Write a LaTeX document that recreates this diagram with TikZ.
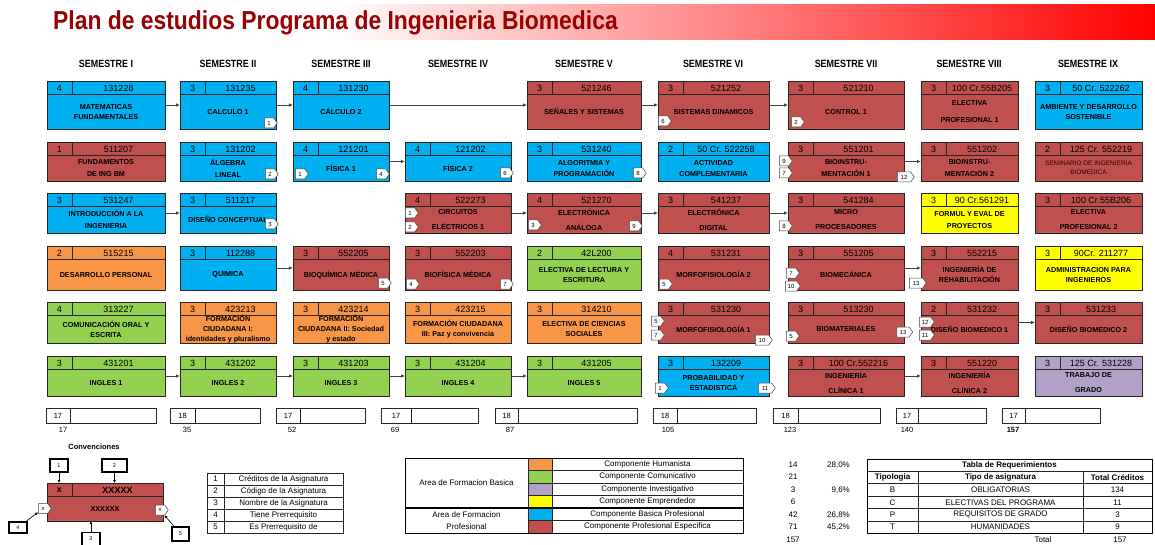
\documentclass[tikz,border=0pt]{standalone}
\usepackage{fontspec}
\setmainfont{Liberation Sans}
\newfontfamily\titfont[FakeStretch=0.88]{Liberation Sans}
\newfontfamily\nar[FakeStretch=0.85]{Liberation Sans}
\usetikzlibrary{shapes.symbols,arrows.meta}
\definecolor{cblue}{HTML}{00B0F0}
\definecolor{cred}{HTML}{C0504D}
\definecolor{corange}{HTML}{F79646}
\definecolor{cgreen}{HTML}{92D050}
\definecolor{cyellow}{HTML}{FFFF00}
\definecolor{cpurple}{HTML}{B1A0C7}
\definecolor{titred}{HTML}{990000}
\tikzset{
 cbox/.style={draw=black!85,line width=0.7pt,inner sep=0pt,outer sep=0pt},
 cline/.style={draw=black!85,line width=0.7pt},
 crt/.style={font=\fontsize{9}{9}\selectfont,inner sep=0pt},
 ttl/.style={font=\fontsize{7.2}{10}\selectfont\bfseries,align=center,inner sep=0pt},
 ttlx/.style={},
 tagst/.style={shape=signal,signal to=east,signal pointer angle=110,draw=black!75,fill=white,
   font=\fontsize{6}{6}\selectfont,inner sep=0.5pt,minimum height=10pt,line width=0.5pt},
 arr/.style={-{Latex[length=4pt,width=3.5pt]},line width=0.8pt,draw=black!75},
 sarr/.style={-{Latex[length=3pt,width=3pt]},line width=0.6pt,draw=black},
 sem/.style={font=\nar\bfseries\fontsize{10.5}{11}\selectfont},
 tot/.style={draw=black!85,line width=0.7pt,inner sep=0pt,anchor=north west},
 small/.style={font=\fontsize{7.5}{8}\selectfont,inner sep=0pt},
 leg/.style={font=\fontsize{8}{9}\selectfont,inner sep=0pt,align=center},
 callout/.style={draw=black,line width=1.3pt,fill=white,inner sep=0pt,font=\fontsize{5.5}{6}\selectfont},
}
\newcommand\crs[9]{%
 \node[cbox,fill=#6,minimum width={#3-#2},minimum height={#5-#4},anchor=north west] (#1) at (#2,#4) {};
 \draw[cline] ({#2},{#4+13.5}) -- ({#3},{#4+13.5});
 \draw[cline] ({#2+25},{#4}) -- ({#2+25},{#4+13.5});
 \node[crt] (#1-k) at ({#2+12.5},{#4+7}) {#7};
 \node[crt] (#1-c) at ({(#2+25+#3)/2},{#4+7}) {#8};
 \node[ttl,ttlx] (#1-n) at ({(#2+#3)/2},{(#4+13.5+#5)/2}) {#9};
 \tikzset{ttlx/.style={}}%
}
\newcommand\tg[4][13]{\node[tagst,minimum width=#1] (#2) at (#3) {#4};}
\newcommand\tot[7]{%
 \node[tot,minimum width={#4-#2},minimum height=15] (#1) at (#2,408) {};
 \draw[cline] (#3,408) -- (#3,423);
 \node[small] (#1-k) at ({(#2+#3)/2},415.5) {#5};
 \node[small] (#1-s) at (#7,430) {#6};
}
\begin{document}
\begin{tikzpicture}[x=1pt,y=-1pt]
\useasboundingbox (0,0) rectangle (1155,545);
% title band
\shade[left color=white,right color=red] (330,5) rectangle (1155,40);
\node[anchor=west,font=\titfont\bfseries\fontsize{26}{26}\selectfont,text=titred,inner sep=0pt] (title) at (53,23) {Plan de estudios Programa de Ingenieria Biomedica};
% semester headers
\node[sem] (s1) at (106,64) {SEMESTRE I};
\node[sem] (s2) at (228,64) {SEMESTRE II};
\node[sem] (s3) at (341,64) {SEMESTRE III};
\node[sem] (s4) at (458,64) {SEMESTRE IV};
\node[sem] (s5) at (584,64) {SEMESTRE V};
\node[sem] (s6) at (713,64) {SEMESTRE VI};
\node[sem] (s7) at (846,64) {SEMESTRE VII};
\node[sem] (s8) at (969,64) {SEMESTRE VIII};
\node[sem] (s9) at (1088,64) {SEMESTRE IX};
% row 1
\crs{a1}{47}{165}{81}{129}{cblue}{4}{131228}{MATEMATICAS\\FUNDAMENTALES}
\crs{b1}{180}{276}{81}{129}{cblue}{3}{131235}{CALCULO 1}
\crs{c1}{293}{389}{81}{129}{cblue}{4}{131230}{CÁLCULO 2}
\crs{e1}{527}{641}{81}{129}{cred}{3}{521246}{SEÑALES Y SISTEMAS}
\crs{f1}{658}{769}{81}{129}{cred}{3}{521252}{SISTEMAS DINAMICOS}
\crs{g1}{788}{904}{81}{129}{cred}{3}{521210}{CONTROL 1}
\crs{h1}{921}{1018}{81}{129}{cred}{3}{100 Cr.55B205}{ELECTIVA\\[7pt]PROFESIONAL 1}
\crs{i1}{1035}{1142}{81}{129}{cblue}{3}{50 Cr. 522262}{AMBIENTE Y DESARROLLO\\SOSTENIBLE}
% row 2
\crs{a2}{47}{165}{142}{181}{cred}{1}{511207}{FUNDAMENTOS\\[2pt]DE ING BM}
\crs{b2}{180}{276}{142}{181}{cblue}{3}{131202}{ÁLGEBRA\\[2pt]LINEAL}
\crs{c2}{293}{389}{142}{181}{cblue}{4}{121201}{FÍSICA 1}
\crs{d2}{405}{511}{142}{181}{cblue}{4}{121202}{FÍSICA 2}
\crs{e2}{527}{641}{142}{181}{cblue}{3}{531240}{ALGORITMIA Y\\[1pt]PROGRAMACIÓN}
\crs{f2}{658}{769}{142}{181}{cblue}{2}{50 Cr. 522258}{ACTIVIDAD\\[1pt]COMPLEMENTARIA}
\crs{g2}{788}{904}{142}{181}{cred}{3}{551201}{BIOINSTRU-\\[2pt]MENTACIÓN 1}
\crs{h2}{921}{1018}{142}{181}{cred}{3}{551202}{BIOINSTRU-\\[2pt]MENTACIÓN 2}
\tikzset{ttlx/.style={font=\fontsize{6.5}{9}\selectfont,text=black!80!red}}
\crs{i2}{1035}{1142}{142}{181}{cred}{2}{125 Cr. 552219}{SEMINARIO DE INGENIERIA\\BIOMEDICA}
% row 3
\crs{a3}{47}{165}{193}{233}{cblue}{3}{531247}{INTRODUCCIÓN A LA\\[2pt]INGENIERIA}
\crs{b3}{180}{276}{193}{233}{cblue}{3}{511217}{DISEÑO CONCEPTUAL}
\crs{d3}{405}{511}{193}{233}{cred}{4}{522273}{CIRCUITOS\\[5pt]ELÉCTRICOS 1}
\crs{e3}{527}{641}{193}{233}{cred}{4}{521270}{ELECTRÓNICA\\[5pt]ANÁLOGA}
\crs{f3}{658}{769}{193}{233}{cred}{3}{541237}{ELECTRÓNICA\\[5pt]DIGITAL}
\crs{g3}{788}{904}{193}{233}{cred}{3}{541284}{MICRO\\[5pt]PROCESADORES}
\crs{h3}{921}{1018}{193}{233}{cyellow}{3}{90 Cr.561291}{FORMUL Y EVAL DE\\[2pt]PROYECTOS}
\crs{i3}{1035}{1142}{193}{233}{cred}{3}{100 Cr.55B206}{ELECTIVA\\[5pt]PROFESIONAL 2}
% row 4
\crs{a4}{47}{165}{246}{290}{corange}{2}{515215}{DESARROLLO PERSONAL}
\crs{b4}{180}{276}{246}{290}{cblue}{3}{112288}{QUIMICA}
\crs{c4}{293}{389}{246}{290}{cred}{3}{552205}{BIOQUÍMICA MÉDICA}
\crs{d4}{405}{511}{246}{290}{cred}{3}{552203}{BIOFÍSICA MÉDICA}
\crs{e4}{527}{641}{246}{290}{cgreen}{2}{42L200}{ELECTIVA DE LECTURA Y\\ESCRITURA}
\crs{f4}{658}{769}{246}{290}{cred}{4}{531231}{MORFOFISIOLOGÍA 2}
\crs{g4}{788}{904}{246}{290}{cred}{3}{551205}{BIOMECÁNICA}
\crs{h4}{921}{1018}{246}{290}{cred}{3}{552215}{INGENIERÍA DE\\REHABILITACIÓN}
\crs{i4}{1035}{1142}{246}{290}{cyellow}{3}{90Cr. 211277}{ADMINISTRACION PARA\\INGENIEROS}
% row 5
\crs{a5}{47}{165}{302}{343}{cgreen}{4}{313227}{COMUNICACIÓN ORAL Y\\ESCRITA}
\begin{scope}
\clip (178,299) rectangle (278,343.3);
\crs{b5}{180}{276}{302}{343}{corange}{3}{423213}{FORMACIÓN\\CIUDADANA I:\\identidades y pluralismo}
\end{scope}
\begin{scope}
\clip (291,299) rectangle (391,343.3);
\crs{c5}{293}{389}{302}{343}{corange}{3}{423214}{FORMACIÓN\\CIUDADANA II: Sociedad\\y estado}
\end{scope}
\crs{d5}{405}{511}{302}{343}{corange}{3}{423215}{FORMACIÓN CIUDADANA\\III: Paz y convivencia}
\crs{e5}{527}{641}{302}{343}{corange}{3}{314210}{ELECTIVA DE CIENCIAS\\SOCIALES}
\crs{f5}{658}{769}{302}{343}{cred}{3}{531230}{MORFOFISIOLOGÍA 1}
\crs{g5}{788}{904}{302}{343}{cred}{3}{513230}{BIOMATERIALES}
\crs{h5}{921}{1018}{302}{343}{cred}{2}{531232}{DISEÑO BIOMEDICO 1}
\crs{i5}{1035}{1142}{302}{343}{cred}{3}{531233}{DISEÑO BIOMEDICO 2}
% row 6
\crs{a6}{47}{165}{356}{396}{cgreen}{3}{431201}{INGLES 1}
\crs{b6}{180}{276}{356}{396}{cgreen}{3}{431202}{INGLES 2}
\crs{c6}{293}{389}{356}{396}{cgreen}{3}{431203}{INGLES 3}
\crs{d6}{405}{511}{356}{396}{cgreen}{3}{431204}{INGLES 4}
\crs{e6}{527}{641}{356}{396}{cgreen}{3}{431205}{INGLES 5}
\crs{f6}{658}{769}{356}{396}{cblue}{3}{132209}{PROBABILIDAD Y\\ESTADISTICA}
\crs{g6}{788}{904}{356}{396}{cred}{3}{100 Cr.552216}{INGENIERÍA\\[5pt]CLÍNICA 1}
\crs{h6}{921}{1018}{356}{396}{cred}{3}{551220}{INGENIERÍA\\[5pt]CLÍNICA 2}
\crs{i6}{1035}{1142}{356}{396}{cpurple}{3}{125 Cr. 531228}{TRABAJO DE\\[5pt]GRADO}
% arrows
\draw[arr] (a1) -- (b1);
\draw[arr] (b1) -- (c1);
\draw[arr] (c1) -- (e1);
\draw[arr] (e1) -- (f1);
\draw[arr] (f1) -- (g1);
\draw[arr] (c2) -- (d2);
\draw[arr] (g2) -- (h2);
\draw[arr] (a3) -- (b3);
\draw[arr] (d3) -- (e3);
\draw[arr] (e3) -- (f3);
\draw[arr] (f3) -- (g3);
\draw[arr] (b4) -- (c4);
\draw[arr] (g4) -- (h4);
\draw[arr] (h5) -- (i5);
\draw[arr] (a6) -- (b6);
\draw[arr] (b6) -- (c6);
\draw[arr] (c6) -- (d6);
\draw[arr] (d6) -- (e6);
\draw[arr] (g6) -- (h6);
% tags
\tg{t1}{269,123}{1}
\tg{t2}{663,121}{6}
\tg{t3}{796,122}{2}
\tg{t4}{270,174}{2}
\tg{t5}{300,174}{1}
\tg{t6}{381,174}{4}
\tg{t7}{505,173}{6}
\tg{t8}{638,173}{8}
\tg{t9}{784,161}{9}
\tg{t10}{784,173}{7}
\tg[17]{t11}{904,177}{12}
\tg{t12}{270,224}{3}
\tg{t13}{410,213}{1}
\tg{t14}{410,227}{2}
\tg{t15}{533,225}{3}
\tg{t16}{634,226}{9}
\tg{t17}{784,226}{8}
\tg{t18}{383,283}{5}
\tg{t19}{411,284}{4}
\tg{t20}{505,284}{7}
\tg{t21}{664,284}{5}
\tg{t22}{791,273}{7}
\tg[15]{t23}{791,286}{10}
\tg[17]{t24}{916,283}{13}
\tg{t25}{656,321}{5}
\tg{t26}{656,335}{7}
\tg[17]{t27}{762,340}{10}
\tg{t28}{791,336}{5}
\tg[16]{t29}{903,332}{13}
\tg[15]{t30}{925,322}{12}
\tg[15]{t31}{925,335}{11}
\tg{t32}{660,388}{1}
\tg[17]{t33}{765,388}{11}
% totals
\tot{u1}{46}{70}{156}{17}{17}{63}
\tot{u2}{170}{195}{260}{18}{35}{187}
\tot{u3}{276}{300}{365}{17}{52}{292}
\tot{u4}{381}{411}{478}{17}{69}{395}
\tot{u5}{495}{518}{637}{18}{87}{510}
\tot{u6}{653}{677}{756}{18}{105}{668}
\tot{u7}{773}{798}{880}{18}{123}{790}
\tot{u8}{896}{918}{986}{17}{140}{907}
\tot{u9}{1002}{1025}{1100}{17}{\bfseries 157}{1013}
% conventions
\node[font=\bfseries\fontsize{7.5}{8}\selectfont,inner sep=0pt] (conv) at (94,447) {Convenciones};
\crs{sx}{47}{163}{483}{521}{cred}{\bfseries x}{\bfseries XXXXX}{XXXXXX}
\tg{tx1}{43,508.5}{x}
\tg{tx2}{160,510}{x}
\node[callout,minimum width=18,minimum height=13] (k1) at (59,465.5) {1};
\node[callout,minimum width=25,minimum height=13] (k2) at (114.5,465.5) {2};
\node[callout,minimum width=18,minimum height=13] (k3) at (91,539) {3};
\node[callout,minimum width=18,minimum height=11] (k4) at (18,527.5) {4};
\node[callout,minimum width=17,minimum height=14] (k5) at (180.5,534) {5};
\draw[sarr] (k1.south) -- (k1.south |- sx.north);
\draw[sarr] (k2.south) -- (k2.south |- sx.north);
\draw[sarr] (k3.north) -- (k3.north |- sx.south);
\draw[sarr] (k4) -- (tx1);
\draw[sarr] (k5) -- (tx2);
% numbering table
\node[tot,minimum width=136,minimum height=60] (lt) at (207,473) {};
\draw[cline] (224,473) -- (224,533);
\foreach \yy in {485,497,509,521} \draw[cline] (207,\yy) -- (343,\yy);
\node[leg] (ln1) at (215.5,479) {1};
\node[leg] (ln2) at (215.5,491) {2};
\node[leg] (ln3) at (215.5,503) {3};
\node[leg] (ln4) at (215.5,515) {4};
\node[leg] (ln5) at (215.5,527) {5};
\node[leg] (ld1) at (283.5,479) {Créditos de la Asignatura};
\node[leg] (ld2) at (283.5,491) {Código de la Asignatura};
\node[leg] (ld3) at (283.5,503) {Nombre de la Asignatura};
\node[leg] (ld4) at (283.5,515) {Tiene Prerrequisito};
\node[leg] (ld5) at (283.5,527) {Es Prerrequisito de};
% colour legend
\fill[corange] (528,458) rectangle (552,470.5);
\fill[cgreen] (528,470.5) rectangle (552,483);
\fill[cpurple] (528,483) rectangle (552,495.5);
\fill[cyellow] (528,495.5) rectangle (552,508);
\fill[cblue] (528,508) rectangle (552,520.5);
\fill[cred] (528,520.5) rectangle (552,533);
\foreach \yy in {470.5,483,495.5,520.5} \draw[cline] (528,\yy) -- (743,\yy);
\draw[draw=black,line width=1.1pt] (405,508) -- (743,508);
\draw[cline] (528,458) -- (528,533);
\draw[cline] (552,458) -- (552,533);
\node[tot,draw=black,line width=1.3pt,minimum width=338,minimum height=75] (cl) at (405,458) {};
\node[leg] (la1) at (466.5,483) {Area de Formacion Basica};
\node[leg,font=\fontsize{8}{12.5}\selectfont] (la2) at (466.5,520.5) {Area de Formacion\\Profesional};
\node[leg] (lc1) at (647.5,464.3) {Componente Humanista};
\node[leg] (lc2) at (647.5,476.8) {Componente Comunicativo};
\node[leg] (lc3) at (647.5,489.3) {Componente Investigativo};
\node[leg] (lc4) at (647.5,501.8) {Componente Emprendedor};
\node[leg] (lc5) at (647.5,514.3) {Componente Basica Profesional};
\node[leg] (lc6) at (647.5,526.8) {Componente Profesional Especifica};
\node[leg] (nm1) at (793,465) {14};
\node[leg] (nm2) at (793,477) {21};
\node[leg] (nm3) at (793,490) {3};
\node[leg] (nm4) at (793,502) {6};
\node[leg] (nm5) at (793,515) {42};
\node[leg] (nm6) at (793,527) {71};
\node[leg] (nm7) at (793,540) {157};
\node[leg,anchor=east] (pc1) at (850,465) {28,0\%};
\node[leg,anchor=east] (pc2) at (850,490) {9,6\%};
\node[leg,anchor=east] (pc3) at (850,515) {26,8\%};
\node[leg,anchor=east] (pc4) at (850,527) {45,2\%};
% requirements table
\foreach \yy in {471,483.5,496,508.5,521} \draw[cline] (867,\yy) -- (1152,\yy);
\draw[cline] (918,471) -- (918,533);
\draw[cline] (1083,471) -- (1083,533);
\node[tot,draw=black,line width=1.3pt,minimum width=285,minimum height=74] (rt) at (867,459) {};
\node[leg,font=\bfseries\fontsize{8}{9}\selectfont] (rh0) at (1009.5,465) {Tabla de Requerimientos};
\node[leg,font=\bfseries\fontsize{8}{9}\selectfont] (rh1) at (892.5,477.3) {Tipologia};
\node[leg,font=\bfseries\fontsize{8}{9}\selectfont] (rh2) at (1000.5,477.3) {Tipo de asignatura};
\node[leg,font=\bfseries\fontsize{8}{9}\selectfont] (rh3) at (1117.5,477.3) {Total Créditos};
\node[leg] (rb1) at (892.5,489.8) {B};
\node[leg] (rb2) at (1000.5,489.8) {OBLIGATORIAS};
\node[leg] (rb3) at (1117.5,489.8) {134};
\node[leg] (rc1) at (892.5,502.3) {C};
\node[leg] (rc2) at (1000.5,502.3) {ELECTIVAS DEL PROGRAMA};
\node[leg] (rc3) at (1117.5,502.3) {11};
\node[leg] (rp1) at (892.5,514.8) {P};
\node[leg] (rp2) at (1000.5,514.8) {REQUISITOS DE GRADO};
\node[leg] (rp3) at (1117.5,514.8) {3};
\node[leg] (rt1) at (892.5,527) {T};
\node[leg] (rt2) at (1000.5,527) {HUMANIDADES};
\node[leg] (rt3) at (1117.5,527) {9};
\node[leg] (rtot) at (1043,540) {Total};
\node[leg] (rtotn) at (1120,540) {157};
\end{tikzpicture}
\end{document}
